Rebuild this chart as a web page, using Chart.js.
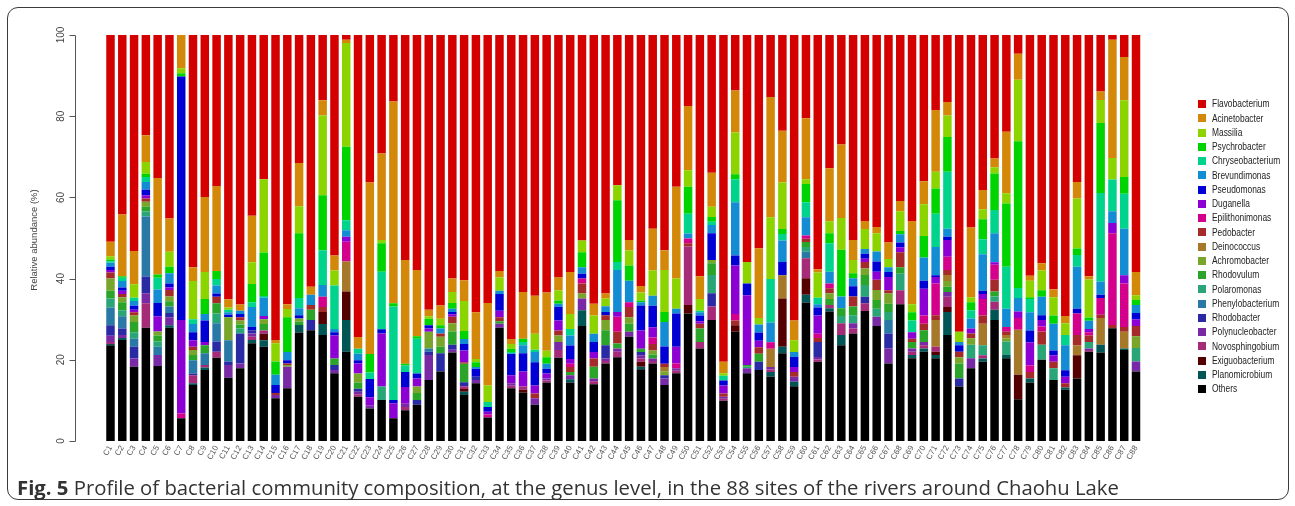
<!DOCTYPE html>
<html>
<head>
<meta charset="utf-8">
<script src="https://cdn.jsdelivr.net/npm/chart.js@4.4.1/dist/chart.umd.min.js"></script>
<style>
  html, body { margin: 0; padding: 0; background: #fff; }
  #frame { position: absolute; left: 7px; top: 7px; width: 1280px; height: 491px;
           border: 1.5px solid #3a3a3a; border-radius: 11px; }
  #wrap { position: absolute; left: 0; top: 0; width: 1295px; height: 506px; }
  #caption { position: absolute; left: 17px; top: 474px; font-family: "Open Sans", sans-serif;
             font-size: 20.3px; line-height: 26px; color: #333; white-space: nowrap; }
  #caption b { font-weight: 700; }
</style>
</head>
<body>
<div id="frame"></div>
<div id="wrap"><canvas id="c" width="1295" height="506"></canvas></div>
<div id="caption"><b>Fig. 5</b> Profile of bacterial community composition, at the genus level, in the 88 sites of the rivers around Chaohu Lake</div>
<script>
// Sampling sites
const sites = ['C1','C2','C3','C4','C5','C6','C7','C8','C9','C10','C11','C12','C13','C14','C15','C16','C17','C18','C19','C20',
  'C21','C22','C23','C24','C25','C26','C27','C28','C29','C30','C31','C32','C33','C34','C35','C36','C37','C38','C39','C40',
  'C41','C42','C43','C44','C45','C46','C47','C48','C49','C50','C51','C52','C53','C54','C55','C56','C57','C58','C59','C60',
  'C61','C62','C63','C64','C65','C66','C67','C68','C69','C70','C71','C72','C73','C74','C75','C76','C77','C78','C79','C80',
  'C81','C82','C83','C84','C85','C86','C87','C88'];

const yTicks = [0, 20, 40, 60, 80, 100];

// Relative abundance (%) of each genus per site, stacked bottom to top
const others = [23.6,24.9,18.3,27.9,18.5,27.9,5.6,13.8,17.5,20.5, 15.6,17.9,24.1,23.2,10.5,13,26.7,27.3,26.1,16.7,
  22,10.9,8,10.1,5.6,7.6,8.9,15,17.1,21.8, 11.3,14.2,5.8,27.9,13,11.9,8.9,14.4,20.5,14.4,
  28.3,14,19.1,20.6,25.7,17.7,19.1,13.8,16.7,31.4, 22.8,29.8,9.9,26.9,16.7,17.5,15.8,21.6,13.5,34.1,
  19.5,31.9,23.6,26.5,32,28.3,19.1,33.7,20.4,22, 20.4,26.1,13.4,17.9,19.5,29.8,20.4,10.3,14.4,20,
  15,12.6,15.4,22,21.8,27.8,22.4,17.1];
const planomicrobium = [0.3,0.5,0,0,0,0.6,0,0.4,0.6,0, 0,0,0.8,1.6,0,0,1.9,0,2.7,0,
  7.8,0,0,0,0,0,0,0,0,0, 0.8,0,0,0,0,0,0,0,0,0.8, 3.9,0,0,0,0,0.6,0,0,0,0,
  0,0,0,0,0,0,1.2,1.6,1.1,1.9, 0,0.8,2.5,0,0,0,0,0,0.8,0.8, 0.8,5.7,0,0,0.8,2.5,0.8,0,1,0,
  0,0.6,0,0,1.9,0,0.4,0];
const exiguobacterium = [0,0,0,0,0,0,0,0,0,0, 0,0,0,1.6,0,0,0,0,3,0,
  7,0,0,0,0,0,0,0,0,0, 0.7,0,0,0,0,0.7,0,0,0,0, 0,0,0,0,0,1.2,0,0,0,2.1,
  0,0,0,1.6,0,0,0,11.9,0,4.1, 0,0,0,0,0,0,0,0,0,0, 0.8,1.2,0,0,0,0,0,6,0,0,
  0,0,5.7,0,0,0,0,0];
const novosphingobium = [0.5,0,0,6,0,0,0,2,0.6,1.5, 0,0,0.8,0.8,0,0,0,0,0,0,
  0,0.6,0,0,0,0.8,0,0,0,0, 0.7,0,0,0,0.6,0.8,0,0.5,1.9,0, 0,0.7,0.6,1.4,0,0.8,0.6,0,0.6,14.4,
  1.6,3.3,0.5,0,0,0,0.6,0,0,4.9, 0.6,0.8,2.9,1.2,1.9,0,0,3.4,0.8,0.8, 1.2,2.5,0,0,0.8,2,0,0,0,0,
  0,0,0,0.4,0,0,0,0];
const polynucleobacter = [1.5,0.7,2,2.5,2.7,2,0,0,0,0, 3.1,1.2,0.8,0,0.8,5.3,0,0,0,0.8,
  0,0.6,0.8,0,0,0.8,0,6.2,0,0.7, 0,0.8,0,1,0.6,0,1.6,0.5,2,1, 2.9,0.7,0.6,0.8,1.2,0.8,0.6,1.6,0.6,0,
  0,0,0.5,0,1.2,0,0.6,0,1.2,0, 0.6,0,0,1.3,0,2.3,3.7,0,0.8,0.8, 0,1.2,0,2.5,0,0,0,0,0,0,
  0,0,0,0.4,0,0,0,2.5];
const rhodobacter = [2.6,1.6,2.9,4.1,0,1,0,0.4,0,2.5, 0.8,7.4,0.8,0,0,0,0,2.5,0,1.2,
  0,0.8,0,0,0,0,1.2,0.8,4.5,1.2, 1,0.8,0,0,0,0,0,0,0,0, 0,0,3.3,0,0,0.8,0,0.8,0,0,
  0,3.3,0,0,0,2,0,0,0,0, 3.7,0,0,0,1.6,0,3.7,0,0,0, 0,0,2,0,0,0,0,0,0,0,
  0,0,0,0,0,0,0,0];
const phenylobacterium = [4.4,3,2,14.8,2,1.6,0,3.3,2.9,4.5, 5.3,0,0,0,0,0,0,0,0,0,
  0,0,0,0,0,0,0,0.8,0,0, 0,0,0,0,0,0,0,0,0,0, 0,0,0,0,0,0,0,0,0,0,
  0,0,0,0,0,0,0,0,0,1.6, 0,0,0,0,0,0,3.3,0,0,0, 0,0,0,0,0,0,0,0,0,0,
  0,0,0,0,0,0,0,0];
const polaromonas = [2.2,1.5,1.6,1.2,1.3,0,0,0,0,2.4, 0,1.2,0,0,0,0,0,0,0,0,
  0,0,0,3.3,0,0,0,0,0,0, 0,0,0,0,0,0,0,0,0,0, 0,0,0,0,0,0,0,0,0,0,
  0,4.5,0,0,0.4,0,0,0,0,1.2, 0,0,1.8,2,2.9,2,2,4.1,0,0, 0,0,0,3.3,2.5,1.3,3.3,0,0,3.7,
  2.9,0,0,1.6,0,0,0,3.3];
const rhodovulum = [1.9,2,2.5,1.2,1.5,1.3,0,1.3,2,2.5, 0,1,0,1.6,0,0,0.8,2.5,0,1.6,
  0,1.5,0,0,0,0,1.7,0,1.6,3.3, 4.5,0,0,0.6,0,0,0,0,0,0.8, 0,2.9,3.7,1.2,2,0.8,1,0,0,0,
  3.3,2.9,0,0,0.4,2,0,0,0,1.2, 0,1.5,1.9,2.1,2.5,2.1,2,1.6,1.6,2.9, 0,1.3,3.7,0,0,1.2,0,0,0,0,
  0,0,0,0,0,0,0,0];
const achromobacter = [3,1.2,1.6,1.2,1,1.2,0,1.2,0,0, 5.7,1,0,1.2,0,0.4,0.8,0,0,0,
  0,2.2,0,0,0,0,1.6,4.1,2.5,2, 0,0,0,0,0,0,0,0,1.6,0, 1.2,0,2.5,0,1.6,0,1,1,0,0,
  0,0.8,0,0,0,0,0,0,0,0, 0,1.4,0,0,1.6,2.5,2.5,0,0,0, 0,1.4,1.5,1.6,0,0,0.8,0,0,0,
  0,0,0,0,0,0,0,2.9];
const deinococcus = [0,0,0,0,0,0,0,0,0,0, 0,0,0,0,0,0,0,0,0,0,
  7.4,0,0,0,0,0,0,0,0,0, 0,0,0,0,0,0,0,0,0,0, 0,0,0,0,0,0,0,1,0,0,
  0,0,0,0,0,0,4.5,5.7,0,0, 0,0,0,0,0,0,0,0,0,0, 6.6,1.5,0,0,5.3,0,0.8,11.1,0,0,
  0,0,2.5,0,6.6,0,4.1,0];
const pedobacter = [1.5,0.8,0.8,0.8,0,1.6,0,0.8,0,1.6, 0,0.8,0,0,0.5,0.4,0,1.2,1.2,0,
  0,0,0,0,0,0,0,0,0.8,1.6, 0.4,0,0,1,0,0,1.2,0,1.2,1.2, 2.5,2,1.2,2.9,2.5,0,1.6,0.8,0,0.8,
  1.2,0,0.8,1.2,0,1.6,0,0,1.2,0.8, 1,1.2,0,2.5,1.6,2.5,0.8,3.7,0.8,1.6, 1.2,1.2,1.4,1.2,2,2.9,0.8,0,1.6,3.3,
  1.6,1,2.5,1.6,0.8,0.8,1.2,2.5];
const epilithonimonas = [0,0,0,0,0,0,1.2,0,0,0, 0,0,0,0,0,0,0,0,2.5,0,
  4.9,0,0,0,0,0,0,0,0,0, 0,0,0.7,0,0,0,0,0,0,0.8, 1.2,0,0,3.7,1.2,0,1.6,0,1.2,1.2,
  0,0,0,1.6,0,0,1.6,0,0,0.8, 1,1.2,0,0,0,0,0,0,0,2, 7.8,3.3,0,0,4.1,3.7,1.2,2.9,1.6,1.2,
  0,0,5.3,0.8,4.1,22.6,10.7,0];
const duganella = [0.6,0.8,0.6,0.8,3.7,0.6,23,1.6,0.8,0, 0,0,0,0.8,0,0,0,0,0,5.7,
  1.2,2.5,2,13.1,3.7,4.1,2,0.8,0,0.6, 2.9,0,0.7,1.6,2,3.7,2,1.2,2.5,1.2, 0,1.6,0,1.2,0,4.5,2.5,0,4.1,0,
  0.6,0,2,11.9,17.2,1.6,0,0,1.2,0, 4.5,0,0,0,0.8,2,3.3,1.2,1.6,6.6, 1.6,4.1,0,1.2,1.2,0.6,0,1.6,5.7,1.6,
  1.6,1.6,0,0.8,0,2.5,2,1.6];
const pseudomonas = [0.8,0.8,1,1.4,3.3,1,60,2,5.3,0.8, 0.6,0.8,0.8,0,2,0.8,0.8,0,0,0.8,
  0,0.8,4.5,1,0.8,3.7,1.2,0.8,0,0.6, 1.6,2,1.2,4.1,5.3,4.5,5.7,1.2,3.3,3.3, 1.2,2.5,0.8,0,0,6.2,5.3,4.3,8.2,0,
  1.4,6.6,1.2,2.5,2.9,2,0,3.3,2.5,0, 2,0,0,2.5,1.2,2.5,1.2,1.2,0,2, 0.4,0.8,1.6,0,0.8,0,0,0,2.9,1.2,
  1.2,1.6,1.2,0,0.8,0,0,1.6];
const brevundimonas = [1,1.6,1.2,1.9,3.3,2.5,0,2,1.6,2, 0.6,0.8,4.9,4.5,2.5,2,1.7,2.5,2.9,0.8,
  1.6,1.6,0,0,0,0,0,0,1.2,0.8, 1.2,0.4,0,0.8,0,2,2.5,1.2,0.8,2.5, 1.6,2,1.4,10.3,5.3,0.8,2.5,6,1.2,1.2,
  0.8,2,0,13.1,0,2,4.9,5.3,1.2,4.5, 0.8,2.9,2.9,2,1.2,2.5,1.2,2,0,5.7, 7,2,0.8,2.5,9,7.2,4.5,3.3,4.5,4.5,
  6.6,6.2,10.3,2,3.3,2.9,11.5,2];
const chryseobacterium = [0.4,0.8,0.8,1.2,2.9,0,0,1.2,0,1.6, 0.6,0,1.2,0.4,0,0,2.5,0,8.6,10.7,
  2.5,1.2,1.6,14.2,23,1.6,8.6,0,0,0, 0,0,1.2,0,0.4,0.8,0.6,0,0,1.6, 0,0,0,2,0,0,0,0,0,4.9,
  0.4,0.8,1.2,5.7,0,0,10.7,1.6,0,3.7, 1.6,7,0,0,0,0,0,0,2.9,0, 8.2,14,0,2,3.7,5.7,10.3,2.5,3.3,0,
  0,2.5,2.9,0,21.8,7.8,8.6,0];
const psychrobacter = [0.4,0.4,0,0.8,0.8,1.6,0.8,0,3.7,2, 0,0,4.5,10.7,3.3,8.6,16,0,13.5,0,
  18.1,0,4.5,7,0.8,0.4,0.6,1.6,0.8,1.4, 2,1.2,0,0,0.8,0.8,0,1.6,0.8,0, 3.7,0,0,15.2,3.7,0.4,0,2.5,0,6.6,
  0,1.2,0,1.2,0,0,0,1.2,0,4.5, 0,2.5,11.5,1.2,0,0,0,0.8,2,5.3, 6.2,8.6,0,2,4.9,9,15.6,36.1,0.4,1.6,
  2,0,1.6,0.8,17.2,0,4.1,1.2];
const massilia = [0.8,0,3.3,2.9,0,3.7,1.2,9.4,6.6,0, 0.6,0,5.3,18.1,4.5,2,6.6,0,19.7,3.7,
  25.5,0,0,0.8,0,0,0,0.6,1.6,2.7, 7.4,0.8,4.1,3.3,1.2,0,3.9,1.6,2.5,3.7, 2.9,4.5,1.9,3.7,3.7,2,6.2,10.3,7.4,4.1,
  2.9,2.5,0.6,10.3,5.3,1.6,15.2,11.5,2.9,1.2, 6.2,2.9,7.8,3.3,4.9,4.5,2,4.9,2,7.8, 4.1,5.3,2.5,1.2,2.5,1.5,2.5,15.2,4.1,4.9,
  4.5,2.9,12.3,9.4,5.7,5.3,18.9,1.2];
const acinetobacter = [3.6,15.2,8.2,6.6,23.8,8.2,8.2,3.4,18.5,20.9, 2,1.5,11.5,0,0.8,1.2,10.7,2,3.7,3.7,
  0.8,2.9,42.3,21.3,49.7,25.6,16.3,1.6,3.3,3.3, 5.1,11.5,20.3,1.6,1.2,11.5,9.4,14.4,3.3,10.3, 0,2.9,1.2,0,2.6,1.6,10.3,4.9,22.6,15.8,
  5.6,8.4,2.8,10.3,0,17.2,29.6,12.7,4.9,15, 0.8,13.1,18.1,4.9,2,1.5,4.1,2.5,20.5,5.7, 15.2,3.3,0,17.2,4.7,2.2,15.2,6.4,1.2,1.8,
  2,1.8,4.1,0.8,2.1,29.1,10.7,5.7];
const flavobacterium = [50.9,44.2,53.2,24.7,35.2,45.2,0,57.2,39.9,37.2, 65.1,66.4,44.5,35.5,75.1,66.3,31.5,62,16.1,54.3,
  1.2,74.4,36.3,29.2,16.4,55.4,57.9,67.7,66.6,60, 60.4,68.3,66,58.1,74.9,63.3,64.2,63.4,59.6,58.4, 50.6,66.2,63.7,37,50.5,61.8,47.7,53,37.4,17.5,
  59.4,33.9,80.5,13.7,55.9,52.5,15.3,23.6,70.3,20.5, 57.7,32.8,27,50.5,45.8,47.3,51.1,40.9,45.8,36, 18.5,16.5,73.1,47.4,38.2,30.4,23.8,4.6,59.3,56.2,
  62.6,69.2,36.2,59.4,13.9,1.2,5.4,58.4];

// Series from the bottom of each bar to the top
const series = [
  { name: 'Others',           values: others,           color: '#000000' },
  { name: 'Planomicrobium',   values: planomicrobium,   color: '#005555' },
  { name: 'Exiguobacterium',  values: exiguobacterium,  color: '#550000' },
  { name: 'Novosphingobium',  values: novosphingobium,  color: '#A52A78' },
  { name: 'Polynucleobacter', values: polynucleobacter, color: '#782AA5' },
  { name: 'Rhodobacter',      values: rhodobacter,      color: '#2A2AA5' },
  { name: 'Phenylobacterium', values: phenylobacterium, color: '#2A78A5' },
  { name: 'Polaromonas',      values: polaromonas,      color: '#2AA578' },
  { name: 'Rhodovulum',       values: rhodovulum,       color: '#2AA52A' },
  { name: 'Achromobacter',    values: achromobacter,    color: '#78A52A' },
  { name: 'Deinococcus',      values: deinococcus,      color: '#A5782A' },
  { name: 'Pedobacter',       values: pedobacter,       color: '#A52A2A' },
  { name: 'Epilithonimonas',  values: epilithonimonas,  color: '#D4008C' },
  { name: 'Duganella',        values: duganella,        color: '#8C00D4' },
  { name: 'Pseudomonas',      values: pseudomonas,      color: '#0000D4' },
  { name: 'Brevundimonas',    values: brevundimonas,    color: '#148CD4' },
  { name: 'Chryseobacterium', values: chryseobacterium, color: '#00D48C' },
  { name: 'Psychrobacter',    values: psychrobacter,    color: '#00D400' },
  { name: 'Massilia',         values: massilia,         color: '#8CD400' },
  { name: 'Acinetobacter',    values: acinetobacter,    color: '#D4880A' },
  { name: 'Flavobacterium',   values: flavobacterium,   color: '#D40000' }
];

// y axis, its title and the legend, drawn R-style beside the plot
const sideDecor = {
  id: 'sideDecor',
  afterDraw(chart) {
    const ctx = chart.ctx;
    const y = chart.scales.y;
    ctx.save();
    const ax = 75.5;
    ctx.strokeStyle = '#555';
    ctx.lineWidth = 1;
    ctx.beginPath();
    ctx.moveTo(ax, Math.round(y.getPixelForValue(0)) + 0.5);
    ctx.lineTo(ax, Math.round(y.getPixelForValue(100)) + 0.5);
    yTicks.forEach(v => {
      const p = Math.round(y.getPixelForValue(v)) + 0.5;
      ctx.moveTo(ax, p);
      ctx.lineTo(ax - 6, p);
    });
    ctx.stroke();

    ctx.fillStyle = '#444';
    ctx.textAlign = 'center';
    ctx.textBaseline = 'middle';
    ctx.font = '10px "Liberation Sans", Arial, sans-serif';
    yTicks.forEach(v => {
      ctx.save();
      ctx.translate(61, y.getPixelForValue(v));
      ctx.rotate(-Math.PI / 2);
      ctx.fillText(String(v), 0, 0);
      ctx.restore();
    });

    ctx.save();
    ctx.translate(34, 240);
    ctx.rotate(-Math.PI / 2);
    ctx.font = '9.5px "Liberation Sans", Arial, sans-serif';
    ctx.fillText('Relative abundance (%)', 0, 0);
    ctx.restore();

    // legend: top of the stack first, condensed lettering
    const items = series.slice().reverse();
    ctx.textAlign = 'left';
    ctx.font = '10.5px "Liberation Sans", Arial, sans-serif';
    items.forEach((s, i) => {
      const cy = 104 + i * 14.25;
      ctx.fillStyle = s.color;
      ctx.fillRect(1198, Math.round(cy - 4), 8, 8);
      ctx.fillStyle = '#222';
      ctx.save();
      ctx.translate(1212, cy + 0.5);
      ctx.scale(0.8, 1);
      ctx.fillText(s.name, 0, 0);
      ctx.restore();
    });
    ctx.restore();
  }
};

new Chart(document.getElementById('c'), {
  type: 'bar',
  data: {
    labels: sites,
    datasets: series.map(s => ({
      label: s.name,
      data: s.values,
      backgroundColor: s.color,
      borderWidth: 0,
      barPercentage: 0.72,
      categoryPercentage: 1.0
    }))
  },
  options: {
    responsive: false,
    animation: false,
    devicePixelRatio: 1,
    layout: { padding: { left: 104.6, right: 153.1, top: 35, bottom: 0 } },
    plugins: { legend: { display: false }, tooltip: { enabled: false } },
    scales: {
      x: {
        stacked: true,
        grid: { display: false, drawTicks: false },
        border: { display: false },
        ticks: {
          autoSkip: false, minRotation: 60, maxRotation: 60, padding: 3,
          color: '#555', font: { size: 8, family: '"Liberation Sans", Arial, sans-serif' }
        },
        afterFit(scale) { scale.height = 65; }
      },
      y: {
        stacked: true, display: false, min: 0, max: 100
      }
    }
  },
  plugins: [sideDecor]
});
</script>
</body>
</html>
